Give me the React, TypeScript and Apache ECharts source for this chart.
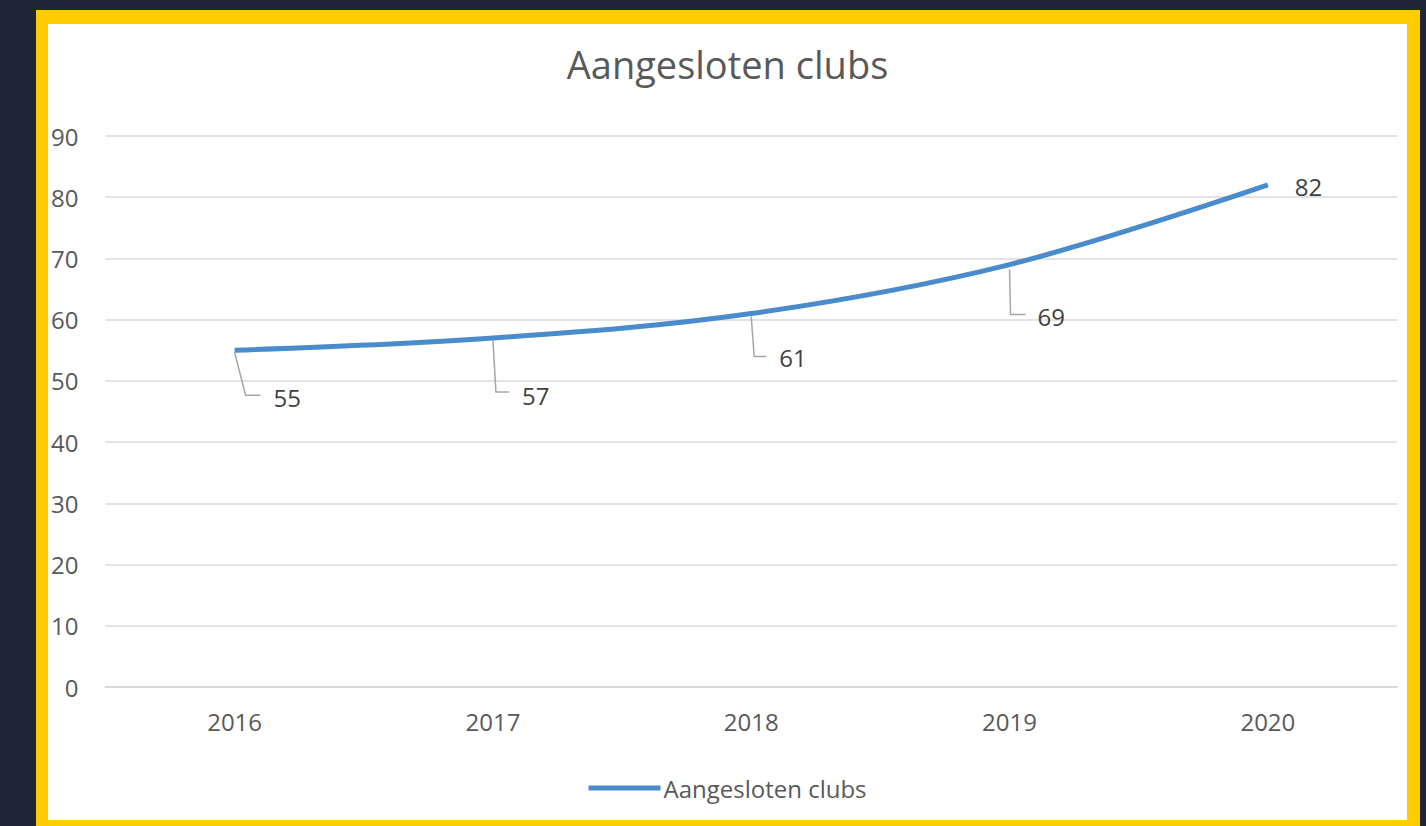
import React, { useEffect, useRef } from "react";
import * as echarts from "echarts";

const categories = ["2016", "2017", "2018", "2019", "2020"];
const clubs = [55, 57, 61, 69, 82];
const seriesName = "Aangesloten clubs";
const titleText = "Aangesloten clubs";
const yMin = 0;
const yMax = 90;
const yInterval = 10;

// label placement styles (pixel offsets relative to each point)
const labelStyles = [
  { leader: [[0, 2], [11, 45], [26, 45]], tx: 39, ty: 47 },
  { leader: [[0, 2], [3, 54], [16, 54]], tx: 29, ty: 57 },
  { leader: [[0, 3], [3, 43], [15, 43]], tx: 28, ty: 44 },
  { leader: [[0, 5], [1, 50], [16, 50]], tx: 28, ty: 52 },
  { leader: null, tx: 27, ty: 2 },
];

const FONT = "'Open Sans', 'Liberation Sans', sans-serif";

export default function App() {
  const ref = useRef<HTMLDivElement>(null);
  useEffect(() => {
    if (!ref.current) return;
    const chart = echarts.init(ref.current, null, { renderer: "svg" });
    chart.setOption({
      animation: false,
      backgroundColor: "#ffffff",
      title: {
        text: titleText,
        left: "center",
        top: 16,
        textStyle: { fontFamily: FONT, fontSize: 38, fontWeight: "normal", color: "#595959" },
      },
      legend: {
        data: [seriesName],
        left: "center",
        top: 747,
        icon: "rect",
        itemWidth: 72,
        itemHeight: 5,
        itemGap: 3,
        textStyle: { fontFamily: FONT, fontSize: 24, color: "#595959", padding: [0, 0, 0, -2] },
      },
      grid: { left: 54, right: 10, top: 112, bottom: 133, containLabel: false },
      xAxis: {
        type: "category",
        data: categories,
        boundaryGap: true,
        axisLine: { show: true, lineStyle: { color: "#d9d9d9", width: 2 } },
        axisTick: { show: false },
        axisLabel: { fontFamily: FONT, fontSize: 24, color: "#595959", margin: 22 },
      },
      yAxis: {
        type: "value",
        min: yMin,
        max: yMax,
        interval: yInterval,
        axisLine: { show: false },
        axisTick: { show: false },
        splitLine: { lineStyle: { color: "#e3e3e3", width: 2 } },
        axisLabel: { fontFamily: FONT, fontSize: 24, color: "#595959", margin: 27 },
      },
      series: [
        {
          name: seriesName,
          type: "line",
          data: clubs,
          smooth: 0.35,
          symbol: "none",
          lineStyle: { color: "#4a8bcc", width: 5 },
          itemStyle: { color: "#4a8bcc" },
          z: 3,
        },
        {
          name: "labels",
          type: "custom",
          data: clubs.map((v, i) => [i, v]),
          z: 4,
          renderItem: (params: any, api: any) => {
            const idx = params.dataIndex;
            const pt = api.coord([api.value(0), api.value(1)]);
            const st = labelStyles[idx];
            const children: any[] = [];
            if (st.leader) {
              children.push({
                type: "polyline",
                shape: { points: st.leader.map((p: number[]) => [pt[0] + p[0], pt[1] + p[1]]) },
                style: { stroke: "#a6a6a6", lineWidth: 1.5, fill: "none" },
              });
            }
            children.push({
              type: "text",
              style: {
                text: String(clubs[idx]),
                x: pt[0] + st.tx,
                y: pt[1] + st.ty,
                fill: "#404040",
                fontFamily: FONT,
                fontSize: 24,
                align: "left",
                verticalAlign: "middle",
              },
            });
            return { type: "group", children };
          },
        },
      ],
    });
    return () => chart.dispose();
  }, []);

  return (
    <div style={{ position: "fixed", left: 0, top: 0, width: 1426, height: 826, background: "#1f243a", overflow: "hidden" }}>
      <div style={{ position: "absolute", left: 36, top: 10, width: 1384, height: 830, background: "#ffcc00" }} />
      <div style={{ position: "absolute", left: 48, top: 24, width: 1359, height: 796, background: "#ffffff", overflow: "hidden" }}>
        <div ref={ref} style={{ width: 1359, height: 796 }} />
      </div>
    </div>
  );
}
